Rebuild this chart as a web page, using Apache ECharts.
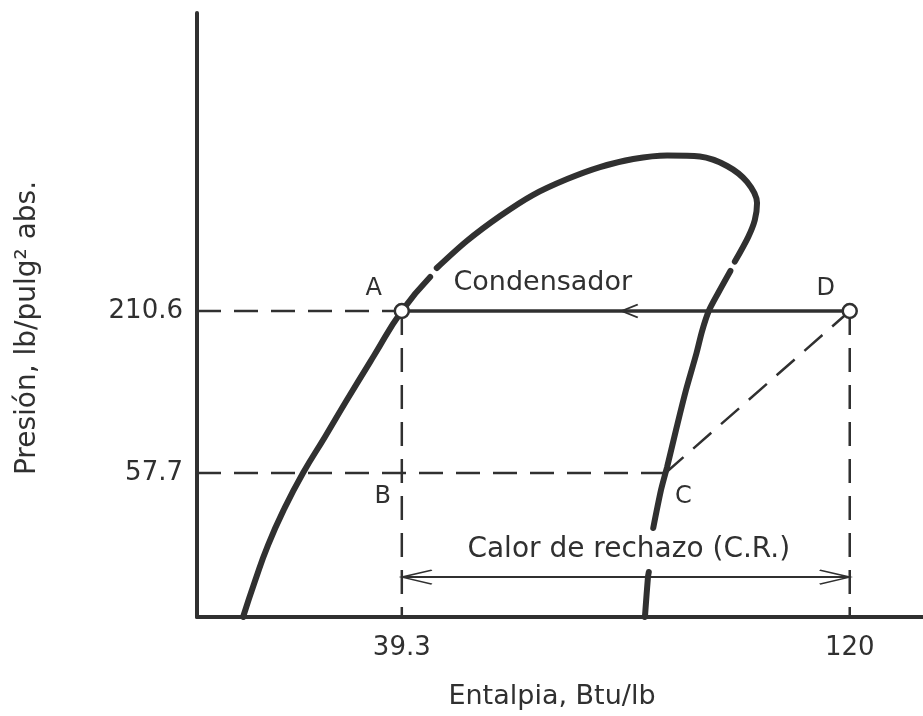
<!DOCTYPE html>
<html>
<head>
<meta charset="utf-8">
<title>Diagrama P-h</title>
<script src="https://cdn.jsdelivr.net/npm/echarts@6/dist/echarts.min.js"></script>
<style>
  html, body { margin: 0; background: #fff; }
  #chart { width: 923px; height: 716px; }
</style>
</head>
<body>
<div id="chart"></div>
<script>
// saturation dome: [enthalpy Btu/lb, pressure lb/pulg2]
const domeLiquid = [
  [10.7, -78.2], [12.85, -44.2], [15.2, -10.3], [18.1, 23.7], [21.5, 57.7],
  [25.5, 92.2], [29.4, 126.6], [34.3, 168.6], [39.3, 210.6], [44.4, 242.7]
];
const domeTop = [
  [45.6, 251.2], [51.0, 276.7], [57.0, 300.3], [62.9, 320.1], [69.1, 335.2],
  [75.0, 346.5], [81.0, 354.1], [87.1, 357.4], [93.0, 356.4], [97.9, 347.5],
  [101.5, 332.4], [103.3, 312.5], [102.9, 296.5], [101.7, 280.4], [99.3, 257.3]
];
const domeVapour = [
  [98.5, 248.4], [96.3, 227.6], [94.6, 210.6], [93.4, 191.7], [92.4, 171.0],
  [90.5, 136.0], [88.7, 98.3], [87.1, 63.4], [86.8, 57.7], [86.0, 41.7], [84.6, 5.8]
];
const domeFoot = [[83.8, -35.7], [83.65, -40.5], [83.1, -78.2]];

// cycle states
const stateNames = ['A', 'B', 'C', 'D'];
const stateH = [39.3, 39.3, 86.8, 120];
const stateP = [210.6, 57.7, 57.7, 210.6];

const xTicks = [39.3, 120];
const yTicks = [210.6, 57.7];
const xRange = [2.4, 133.2];
const yRange = [-78.2, 491.9];
const crLevel = -40.5; // height of the "calor de rechazo" dimension line

const ink = '#303030';
const font = 'DejaVu Sans';
const chevron = 'path://M0,26 L10,0 L20,26';

const pt = i => [stateH[i], stateP[i]];
const A = pt(0), B = pt(1), C = pt(2), D = pt(3);
const midH = (A[0] + D[0]) / 2;

function curve(data, smooth) {
  return {
    type: 'line', data: data, smooth: smooth, showSymbol: false, z: 3,
    lineStyle: { color: ink, width: 6, cap: 'round' }
  };
}
function dashed(p, q) {
  return {
    type: 'line', data: [p, q], showSymbol: false, z: 2,
    lineStyle: { color: ink, width: 2.5, type: [24, 13] }
  };
}
const arrowStyle = { color: 'rgba(0,0,0,0)', borderColor: ink, borderWidth: 2, opacity: 1 };

let chart = echarts.init(document.getElementById('chart'));
chart.setOption({
  backgroundColor: '#fff',
  animation: false,
  textStyle: { fontFamily: font, color: ink },
  grid: { left: 197, right: 0, top: 13, bottom: 99 },
  xAxis: {
    type: 'value', min: xRange[0], max: xRange[1],
    name: 'Entalpia, Btu/lb', nameLocation: 'middle', nameGap: 66,
    nameTextStyle: { fontSize: 27, color: ink, fontFamily: font, padding: [0, 0, 0, -16] },
    axisLine: { onZero: false, lineStyle: { color: ink, width: 4 } },
    axisTick: { show: false },
    splitLine: { show: false },
    axisLabel: { customValues: xTicks, fontSize: 26, color: ink, fontFamily: font, margin: 18 }
  },
  yAxis: {
    type: 'value', min: yRange[0], max: yRange[1],
    name: 'Presión, lb/pulg² abs.', nameLocation: 'middle', nameGap: 155,
    nameTextStyle: { fontSize: 28, color: ink, fontFamily: font, padding: [0, 0, 0, -26] },
    axisLine: { onZero: false, lineStyle: { color: ink, width: 4 } },
    axisTick: { show: false },
    splitLine: { show: false },
    axisLabel: { customValues: yTicks, fontSize: 26, color: ink, fontFamily: font, margin: 14 }
  },
  series: [
    curve(domeLiquid, 0.5),
    curve(domeTop, 0.3),
    curve(domeVapour, 0.3),
    curve(domeFoot, 0.3),
    dashed([xRange[0], A[1]], A),
    dashed([xRange[0], B[1]], C),
    dashed(A, [A[0], yRange[0]]),
    dashed(D, [D[0], yRange[0]]),
    dashed(C, D),
    {
      // condensador A <- D
      type: 'line', data: [A, D], showSymbol: false, z: 4,
      lineStyle: { color: ink, width: 3.5 },
      markPoint: {
        silent: true,
        data: [
          { coord: [midH, A[1]], symbol: chevron, symbolSize: [13, 16], symbolRotate: 90,
            symbolOffset: [4, 0], itemStyle: arrowStyle, label: { show: false } },
          { coord: [midH, A[1]], symbol: 'circle', symbolSize: 0,
            itemStyle: { color: 'rgba(0,0,0,0)' },
            label: { show: true, formatter: 'Condensador', offset: [-83, -28],
                     fontSize: 27, color: ink, fontFamily: font } }
        ]
      }
    },
    {
      // calor de rechazo
      type: 'line', z: 4,
      data: [
        { value: [A[0], crLevel], symbol: chevron, symbolSize: [14, 30], symbolRotate: 90,
          symbolOffset: [15, 0], itemStyle: arrowStyle },
        { value: [D[0], crLevel], symbol: chevron, symbolSize: [14, 30], symbolRotate: -90,
          symbolOffset: [-15, 0], itemStyle: arrowStyle }
      ],
      showSymbol: true,
      lineStyle: { color: ink, width: 2 },
      markPoint: {
        silent: true,
        data: [
          { coord: [midH, crLevel], symbol: 'circle', symbolSize: 0,
            itemStyle: { color: 'rgba(0,0,0,0)' },
            label: { show: true, formatter: 'Calor de rechazo (C.R.)', offset: [3, -27],
                     fontSize: 28, color: ink, fontFamily: font } }
        ]
      }
    },
    {
      type: 'scatter', z: 6,
      data: stateNames.map((n, i) => ({
        name: n,
        value: pt(i),
        symbolSize: (n === 'A' || n === 'D') ? 14 : 0,
        itemStyle: { color: '#fff', borderColor: ink, borderWidth: 2.5, opacity: 1 },
        label: {
          show: true, formatter: n, position: 'inside',
          offset: { A: [-28, -22], B: [-19, 24], C: [18, 24], D: [-24, -22] }[n],
          fontSize: 24, color: ink, fontFamily: font
        }
      }))
    }
  ]
});
</script>
</body>
</html>
